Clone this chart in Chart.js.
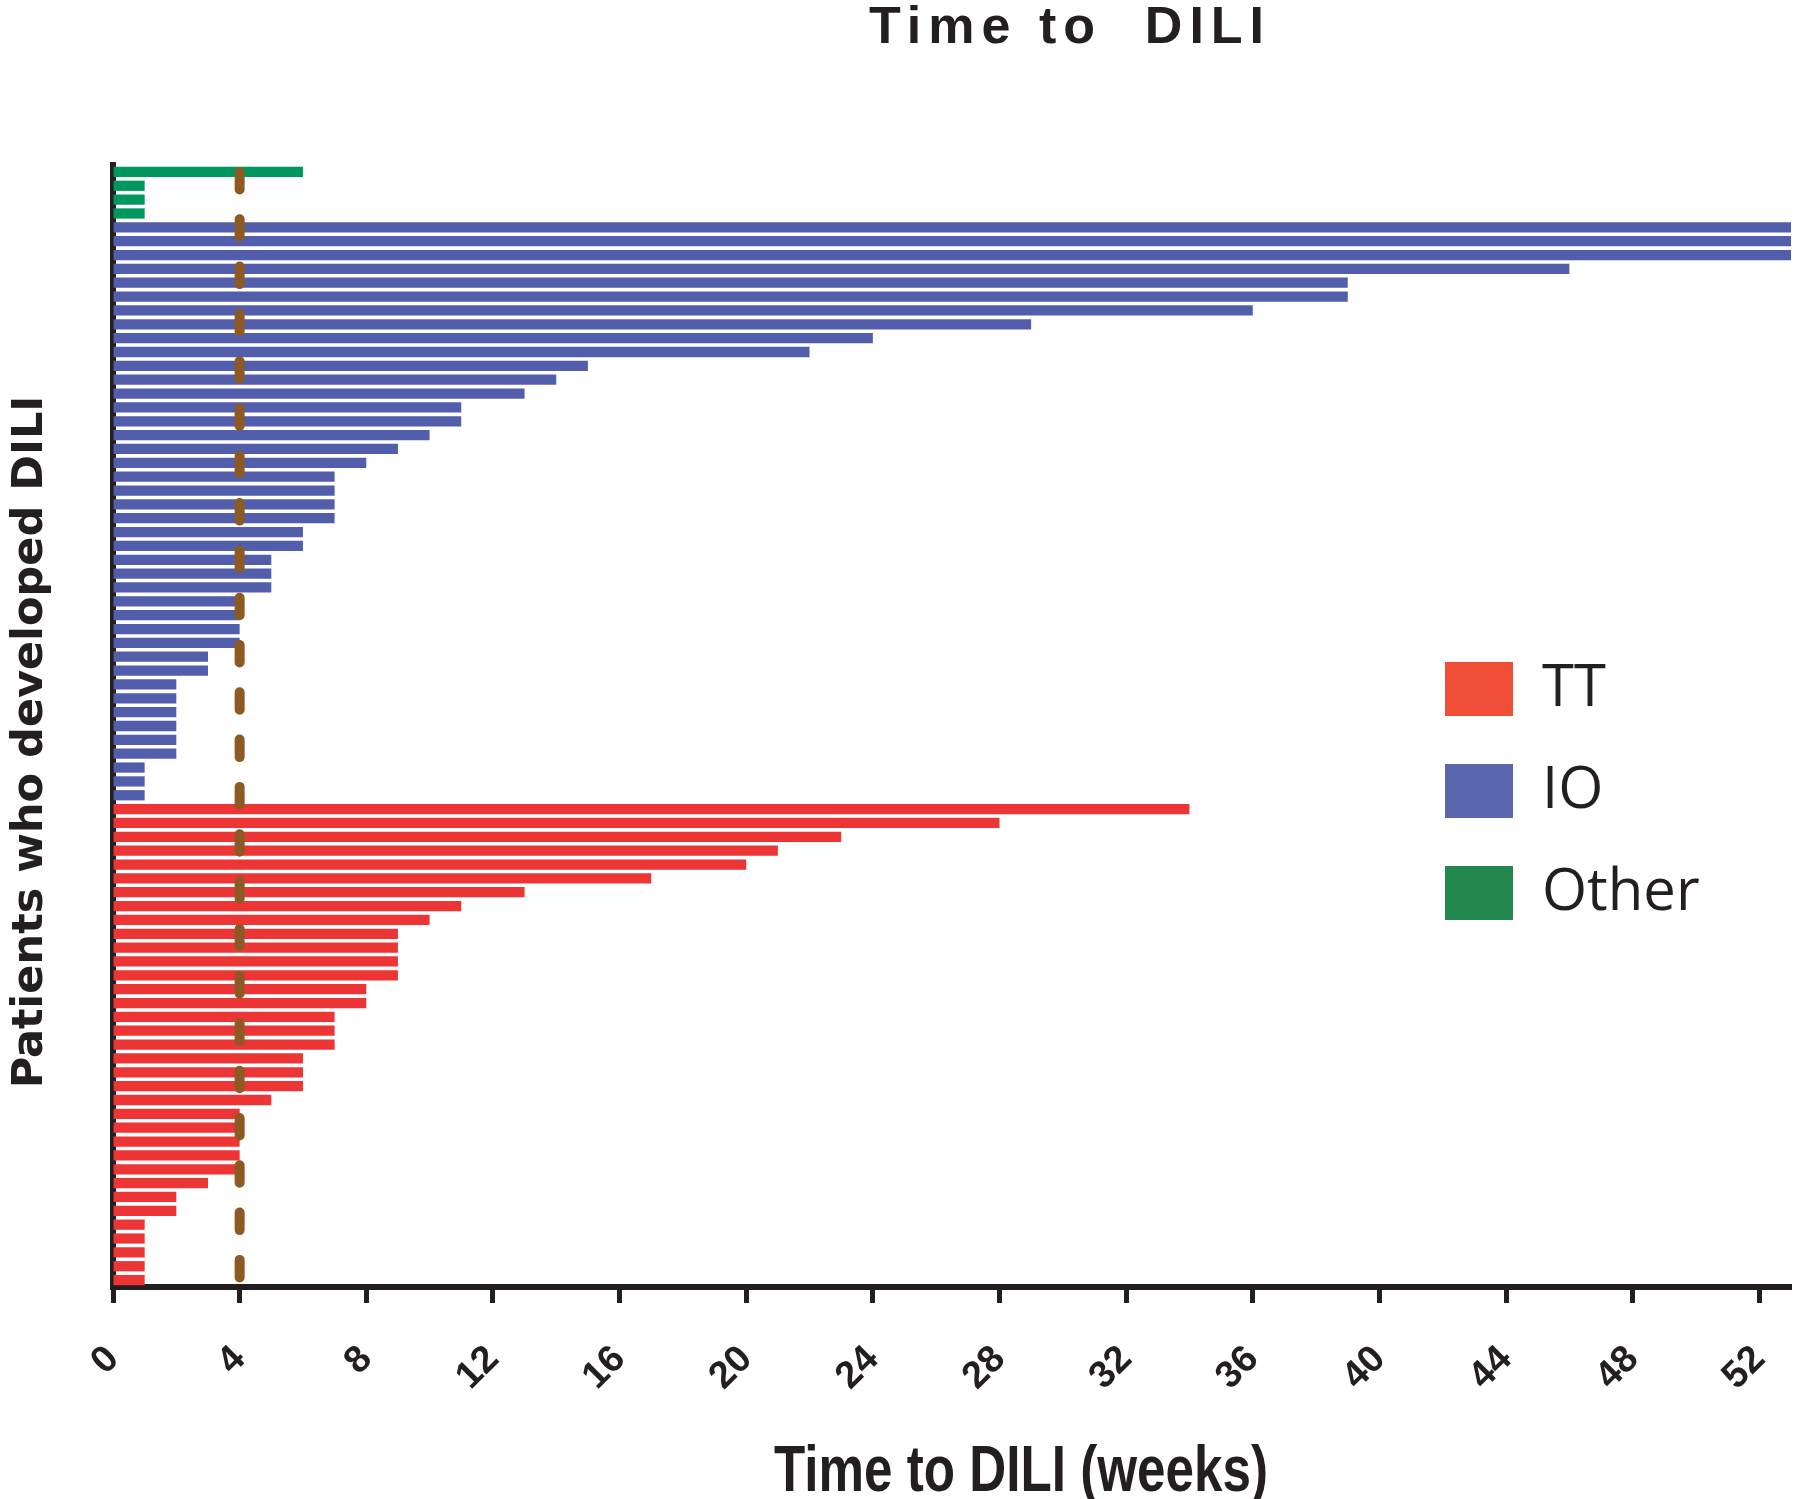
<!DOCTYPE html>
<html>
<head>
<meta charset="utf-8">
<title>Time to DILI</title>
<script src="https://cdn.jsdelivr.net/npm/chart.js@4.4.1/dist/chart.umd.min.js"></script>
<style>
  html, body { margin: 0; padding: 0; background: #fff; }
  canvas { display: block; }
</style>
</head>
<body>
<canvas id="dili-chart" width="1800" height="1499"></canvas>
<script>
// weeks to DILI per patient, read top to bottom within each group
var otherWeeks = [6, 1, 1, 1];
var ioWeeks = [53, 53, 53, 46, 39, 39, 36, 29, 24, 22, 15, 14, 13, 11, 11, 10, 9, 8,
  7, 7, 7, 7, 6, 6, 5, 5, 5, 4, 4, 4, 4, 3, 3, 2, 2, 2, 2, 2, 2, 1, 1, 1];
var ttWeeks = [34, 28, 23, 21, 20, 17, 13, 11, 10, 9, 9, 9, 9, 8, 8, 7, 7, 7,
  6, 6, 6, 5, 4, 4, 4, 4, 4, 3, 2, 2, 1, 1, 1, 1, 1];
var seriesNames = ['TT', 'IO', 'Other'];
var xTicks = [0, 4, 8, 12, 16, 20, 24, 28, 32, 36, 40, 44, 48, 52];
var xMax = 53;
var cutoffWeek = 4;

var ink = '#231f20';
var barColors = ['#ee3536', '#525eab', '#00975f'];
var legendColors = ['#f04e36', '#5a67ae', '#23884e'];
var dashColor = '#8c5a22';

// one row per patient: Other on top, then IO, then TT
var allWeeks = otherWeeks.concat(ioWeeks, ttWeeks);
var patients = allWeeks.map(function (w, i) { return 'Patient ' + (i + 1); });

function column(weeks, offset) {
  return allWeeks.map(function (w, i) {
    return (i >= offset && i < offset + weeks.length) ? weeks[i - offset] : null;
  });
}
var ttData = column(ttWeeks, otherWeeks.length + ioWeeks.length);
var ioData = column(ioWeeks, otherWeeks.length);
var otherData = column(otherWeeks, 0);

var cutoffLine = {
  id: 'cutoffLine',
  afterDatasetsDraw: function (chart) {
    var ctx = chart.ctx, area = chart.chartArea;
    var x = chart.scales.x.getPixelForValue(cutoffWeek);
    ctx.save();
    ctx.strokeStyle = dashColor;
    ctx.lineWidth = 10;
    ctx.lineCap = 'round';
    ctx.setLineDash([17.5, 29.8]);
    ctx.beginPath();
    ctx.moveTo(x, area.top + 7);
    ctx.lineTo(x, area.bottom - 5);
    ctx.stroke();
    ctx.restore();
  }
};

var placeLegend = {
  id: 'placeLegend',
  afterLayout: function (chart) {
    chart.legend.left = 1401;
    chart.legend.top = 616;
  }
};

var chartText = {
  id: 'chartText',
  afterDraw: function (chart) {
    var ctx = chart.ctx;
    ctx.save();
    ctx.fillStyle = ink;
    ctx.textBaseline = 'alphabetic';

    // title, letter spaced
    ctx.font = 'bold 52px "Liberation Sans", Arial, sans-serif';
    ctx.letterSpacing = '7px';
    ctx.textAlign = 'left';
    ctx.fillText('Time to  DILI', 869, 43);
    ctx.letterSpacing = '0px';

    // x axis title, condensed
    ctx.save();
    ctx.translate(1021, 1491);
    ctx.scale(0.8, 1);
    ctx.textAlign = 'center';
    ctx.font = 'bold 64px "Liberation Sans", Arial, sans-serif';
    ctx.fillText('Time to DILI (weeks)', 0, 0);
    ctx.restore();

    // y axis title
    ctx.save();
    ctx.translate(42, 742);
    ctx.rotate(-Math.PI / 2);
    ctx.textAlign = 'center';
    ctx.font = 'bold 43px "DejaVu Sans", sans-serif';
    ctx.fillText('Patients who developed DILI', 0, 0);
    ctx.restore();

    ctx.restore();
  }
};

var ctx = document.getElementById('dili-chart').getContext('2d');

var diliChart = new Chart(ctx, {
  type: 'bar',
  data: {
    labels: patients,
    datasets: [
      { label: seriesNames[0], data: ttData, backgroundColor: barColors[0] },
      { label: seriesNames[1], data: ioData, backgroundColor: barColors[1] },
      { label: seriesNames[2], data: otherData, backgroundColor: barColors[2] }
    ]
  },
  options: {
    indexAxis: 'y',
    responsive: false,
    animation: false,
    devicePixelRatio: 1,
    borderWidth: 0,
    barPercentage: 0.74,
    categoryPercentage: 1,
    layout: { padding: { top: 165, right: 9, bottom: 0, left: 0 } },
    scales: {
      x: {
        type: 'linear',
        min: 0,
        max: xMax,
        stacked: true,
        afterBuildTicks: function (scale) {
          scale.ticks = xTicks.map(function (v) { return { value: v }; });
        },
        afterFit: function (scale) {
          scale.height = 212;
          scale.paddingLeft = 0;
          scale.paddingRight = 0;
        },
        ticks: {
          autoSkip: false,
          minRotation: 45,
          maxRotation: 45,
          padding: 34,
          color: ink,
          font: { family: '"Liberation Sans", Arial, sans-serif', size: 38, weight: 'bold' }
        },
        grid: {
          drawOnChartArea: false,
          drawTicks: true,
          tickLength: 16,
          tickWidth: 5,
          tickColor: ink
        },
        border: { display: true, width: 6, color: ink }
      },
      y: {
        type: 'category',
        stacked: true,
        afterFit: function (scale) { scale.width = 113; },
        ticks: { display: false },
        grid: { display: false },
        border: { display: true, width: 6, color: ink }
      }
    },
    plugins: {
      tooltip: { enabled: false },
      title: { display: false },
      legend: {
        position: 'chartArea',
        align: 'start',
        labels: {
          boxWidth: 68,
          boxHeight: 54,
          padding: 44,
          color: ink,
          font: { family: '"Open Sans", sans-serif', size: 58 },
          generateLabels: function (chart) {
            var items = Chart.defaults.plugins.legend.labels.generateLabels(chart);
            items.forEach(function (it, i) {
              it.fillStyle = legendColors[i];
              it.strokeStyle = legendColors[i];
              it.lineWidth = 0;
            });
            return items;
          }
        }
      }
    }
  },
  plugins: [cutoffLine, placeLegend, chartText]
});
</script>
</body>
</html>
